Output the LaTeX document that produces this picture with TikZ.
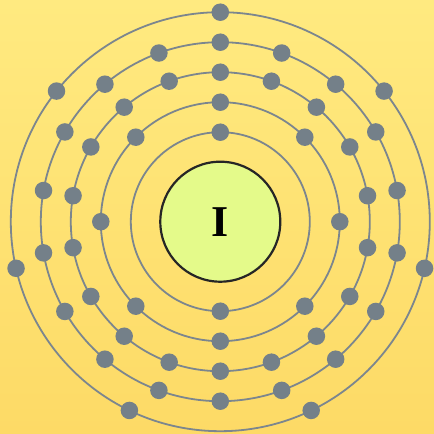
\documentclass[tikz,border=0pt]{standalone}
\usepackage{fontspec}
\setmainfont{Liberation Serif}
\definecolor{bgtop}{HTML}{FFEA80}
\definecolor{bgbot}{HTML}{FDDA66}
\definecolor{shell}{HTML}{7C868E}
\definecolor{electron}{HTML}{748089}
\definecolor{nucfill}{HTML}{E4FA8A}
\definecolor{nucline}{HTML}{262626}
\tikzset{
  shellring/.style={draw=shell, line width=1.8pt},
  electronnode/.style={circle, fill=electron, draw=none, minimum size=17.5pt, inner sep=0pt},
  nucleus/.style={circle, fill=nucfill, draw=nucline, line width=2.2pt, minimum size=120pt, inner sep=0pt,
    font=\fontsize{44}{44}\selectfont\bfseries}
}
\begin{document}
\begin{tikzpicture}[x=1pt,y=1pt]
\useasboundingbox (0,0) rectangle (434,434);
\shade[top color=bgtop, bottom color=bgbot] (0,0) rectangle (434,434);
\begin{scope}[shift={(220.3,212.3)}]
% shells
\foreach \r in {89.5,119.5,149.5,179.5,209.5}
  \draw[shellring] (0,0) circle[radius=\r];
% nucleus
\node[nucleus] (nuc) at (0,0) {I};
% shell 1: 2 electrons
\foreach \k in {0,1}
  \node[electronnode] (e1-\k) at ({90+180*\k}:89.5) {};
% shell 2: 8 electrons
\foreach \k in {0,...,7}
  \node[electronnode] (e2-\k) at ({90+45*\k}:119.5) {};
% shell 3: 18 electrons
\foreach \k in {0,...,17}
  \node[electronnode] (e3-\k) at ({90+20*\k}:149.5) {};
% shell 4: 18 electrons
\foreach \k in {0,...,17}
  \node[electronnode] (e4-\k) at ({90+20*\k}:179.5) {};
% shell 5: 7 electrons
\foreach \k in {0,...,6}
  \node[electronnode] (e5-\k) at ({90+360/7*\k}:209.5) {};
\end{scope}
\end{tikzpicture}
\end{document}
